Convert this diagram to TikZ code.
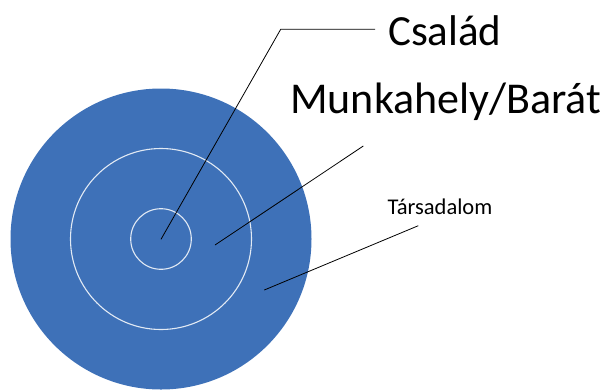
\documentclass[tikz,border=0pt]{standalone}
\usepackage{fontspec}
\setmainfont{Carlito}
\definecolor{ringblue}{HTML}{3E71B8}
\begin{document}
\begin{tikzpicture}[x=1pt,y=-1pt,
  ring/.style={draw=white!85!ringblue,line width=1.1pt},
  leader/.style={draw=black,line width=0.8pt},
  lbl/.style={inner sep=0pt,anchor=base west,text=black}]
\useasboundingbox (0,0) rectangle (604,389);
\fill[ringblue] (161,239) circle[radius=150.5];
\draw[ring] (161,239) circle[radius=90.5];
\draw[ring] (161,239) circle[radius=30.3];
\coordinate (c1) at (161,239.3);
\coordinate (k1) at (280.7,29.3);
\coordinate (e1) at (375,29.3);
\coordinate (c2) at (215,245);
\coordinate (e2) at (363.3,146);
\coordinate (c3) at (264.3,290);
\coordinate (e3) at (418.3,225.7);
\node[lbl,font=\fontsize{43}{50}\selectfont] (csalad) at (388,45) {Család};
\node[lbl,font=\fontsize{44}{52}\selectfont] (munka) at (290,113) {Munkahely/Barát};
\node[lbl,font=\fontsize{22.5}{27}\selectfont] (tars) at (387.5,214.3) {Társadalom};
\draw[leader] (c1) -- (k1) -- (e1);
\draw[leader] (c2) -- (e2);
\draw[leader] (c3) -- (e3);
\end{tikzpicture}
\end{document}
